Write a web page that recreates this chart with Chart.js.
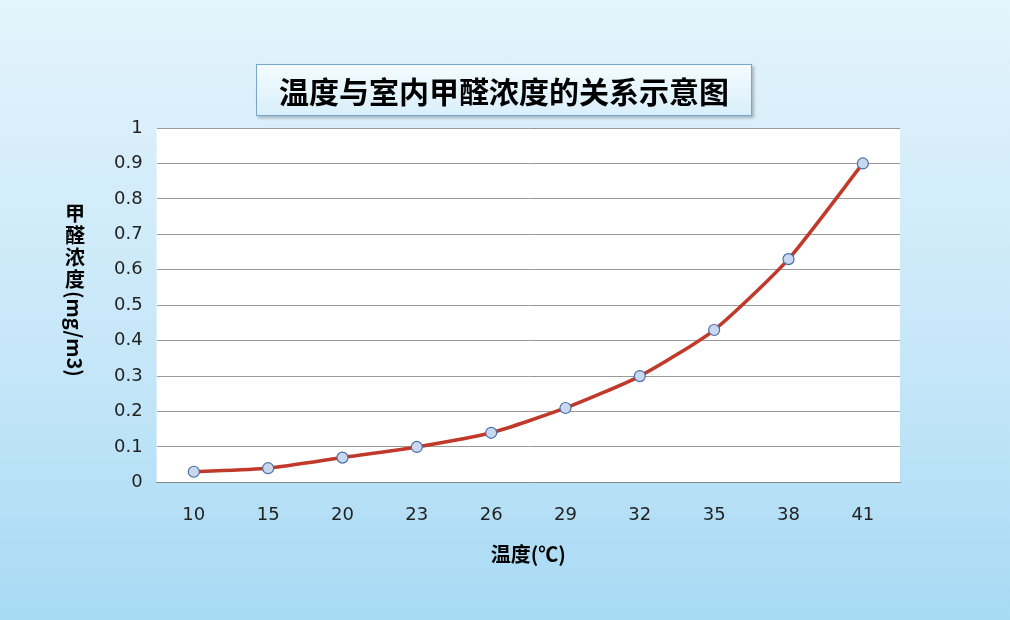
<!DOCTYPE html>
<html><head><meta charset="utf-8">
<script src="https://cdn.jsdelivr.net/npm/chart.js@4/dist/chart.umd.min.js"></script>
<style>
html,body{margin:0;padding:0;}
body{width:1010px;height:620px;background:linear-gradient(180deg,#e4f4fc 0%,#c4e6f8 60%,#a8daf4 100%);position:relative;overflow:hidden;font-family:"Noto Sans CJK SC",sans-serif;}
#title{position:absolute;left:256px;top:64px;width:494px;height:50px;border:1px solid #7aa7c8;background:linear-gradient(180deg,#f4fbff,#d8effb);box-shadow:2px 2px 3px rgba(0,0,0,0.25);font-size:30px;font-weight:bold;text-align:center;line-height:50px;color:#000;}
#wrap{position:absolute;left:0;top:0;width:1010px;height:620px;}
</style></head><body>
<div id="wrap"><canvas id="c" width="1010" height="620"></canvas></div>
<div id="title">温度与室内甲醛浓度的关系示意图</div>
<script>
const categories=["10","15","20","23","26","29","32","35","38","41"];
const values=[0.03,0.04,0.07,0.10,0.14,0.21,0.30,0.43,0.63,0.90];
const yTicks=[0,0.1,0.2,0.3,0.4,0.5,0.6,0.7,0.8,0.9,1];
const xTitle="温度(℃)";
const yTitleCJK="甲醛浓度";
const yTitleRest="(mg/m3)";
const bgPlugin={id:'bg',beforeDraw(ch){const a=ch.chartArea,c=ch.ctx;c.save();c.fillStyle='#fff';c.fillRect(a.left,a.top,a.right-a.left,a.bottom-a.top);c.restore();},
afterDraw(ch){const c=ch.ctx;c.save();c.fillStyle='#000';c.font='bold 20px "Noto Sans CJK SC"';c.textAlign='center';c.textBaseline='middle';
let y=213;for(const s of yTitleCJK){c.fillText(s,75,y);y+=22;}
c.translate(75,y-10);c.rotate(Math.PI/2);c.textAlign='left';c.fillText(yTitleRest,0,0);c.restore();}};
new Chart(document.getElementById('c'),{type:'line',
data:{labels:categories,datasets:[{data:values,borderColor:'#c0392b',borderWidth:3.5,tension:0.2,pointRadius:5.5,pointBackgroundColor:'#c9d8ef',pointBorderColor:'#4a6fa5',pointBorderWidth:1.2}]},
options:{responsive:false,animation:false,layout:{padding:{left:100,right:110,top:128,bottom:50}},
plugins:{legend:{display:false},tooltip:{enabled:false}},
scales:{x:{offset:true,grid:{display:false},border:{color:'#888'},ticks:{color:'#222',font:{size:18,family:'DejaVu Sans'},padding:14},
title:{display:true,text:xTitle,color:'#000',font:{size:20,weight:'bold',family:'Noto Sans CJK SC'},padding:{top:2}}},
y:{min:0,max:1,afterBuildTicks(s){s.ticks=yTicks.map(v=>({value:v}));},grid:{color:'#9a9a9a',drawTicks:false},border:{display:false},
ticks:{color:'#222',font:{size:18,family:'DejaVu Sans'},padding:14,callback:v=>String(+v.toFixed(1))}}}},
plugins:[bgPlugin]});
</script>
</body></html>
